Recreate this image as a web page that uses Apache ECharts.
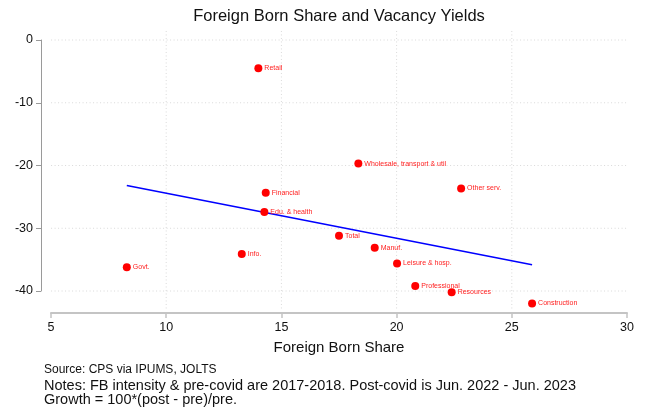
<!DOCTYPE html>
<html>
<head>
<meta charset="utf-8">
<script src="https://cdn.jsdelivr.net/npm/echarts@6/dist/echarts.min.js"></script>
<style>html,body{margin:0;padding:0;background:#fff}#c{width:646px;height:418px}</style>
</head>
<body>
<div id="c"></div>
<script>
const sectors = ['Retail','Financial','Edu. & health','Total','Info.','Govt.','Wholesale, transport & util','Other serv.','Manuf.','Leisure & hosp.','Professional','Resources','Construction'];
const fbShare = [14.0,14.32,14.26,17.5,13.28,8.29,18.34,22.8,19.05,20.02,20.81,22.39,25.88];
const vacancyGrowth = [-4.5,-24.35,-27.4,-31.2,-34.1,-36.2,-19.7,-23.65,-33.1,-35.6,-39.2,-40.2,-42.0];
const fitX = [8.29, 25.88];
const fitY = [-23.2, -35.8];
const xTicks = [5,10,15,20,25,30];
const yTicks = [0,-10,-20,-30,-40];
const xGridTicks = [10,15,20,25];

const FONT = '"Liberation Sans", Arial, sans-serif';
const chart = echarts.init(document.getElementById('c'), null, {renderer:'canvas'});

// plot-region extents (in data units) for grid lines
const xLo = 4.70, xHi = 30.39, yHi = 1.44, yLo = -43.0;
const gridStyle = {color:'#d9d9d9', width:1, type:[1,2.5]};
const gridSeries = [];
yTicks.forEach(v => gridSeries.push({type:'line', data:[[xLo,v],[xHi,v]], clip:false, silent:true, symbol:'none', lineStyle:gridStyle, z:1, animation:false}));
xGridTicks.forEach(v => gridSeries.push({type:'line', data:[[v,yHi],[v,yLo]], clip:false, silent:true, symbol:'none', lineStyle:gridStyle, z:1, animation:false}));

const pts = sectors.map((s,i) => ({name:s, value:[fbShare[i], vacancyGrowth[i]]}));

chart.setOption({
  animation:false,
  textStyle:{fontFamily:FONT},
  grid:{left:51, right:19, top:40, bottom:127, containLabel:false},
  xAxis:{
    type:'value', min:5, max:30, interval:5, offset:22,
    name:'Foreign Born Share', nameLocation:'middle', nameGap:27,
    nameTextStyle:{fontSize:15, color:'#111', fontFamily:FONT},
    axisLine:{show:true, onZero:false, lineStyle:{color:'#c4c4c4', width:2}},
    axisTick:{show:true, length:5, inside:false, lineStyle:{color:'#c4c4c4', width:1.5}},
    axisLabel:{fontSize:12.5, color:'#111', margin:8, fontFamily:FONT, formatter:v=>String(v)},
    splitLine:{show:false}
  },
  yAxis:{
    type:'value', min:-40, max:0, interval:10, offset:10,
    axisLine:{show:true, onZero:false, lineStyle:{color:'#9a9a9a', width:1}},
    axisTick:{show:true, length:5, lineStyle:{color:'#9a9a9a', width:1}},
    axisLabel:{fontSize:12.5, color:'#111', margin:8, fontFamily:FONT},
    splitLine:{show:false}
  },
  series:[
    ...gridSeries,
    {
      type:'line', data:[[fitX[0],fitY[0]],[fitX[1],fitY[1]]], symbol:'none', clip:false,
      lineStyle:{color:'#0000ff', width:1.5}, z:3, silent:true
    },
    {
      type:'scatter', data:pts, symbol:'circle', symbolSize:8, clip:false, z:4,
      itemStyle:{color:'#ff0000', opacity:1},
      label:{show:true, position:'right', distance:2, formatter:p=>p.name, fontSize:7, color:'#ff2020', fontFamily:FONT}
    }
  ],
  graphic:[
    {type:'text', x:339, y:8, style:{text:'Foreign Born Share and Vacancy Yields', font:'16.5px '+FONT, fill:'#111', textAlign:'center'}},
    {type:'text', x:44, y:364, style:{text:'Source: CPS via IPUMS, JOLTS', font:'12px '+FONT, fill:'#111'}},
    {type:'text', x:44, y:379, style:{text:'Notes: FB intensity & pre-covid are 2017-2018. Post-covid is Jun. 2022 - Jun. 2023\nGrowth = 100*(post - pre)/pre.', font:'14.5px '+FONT, fill:'#111', lineHeight:14}}
  ]
});
</script>
</body>
</html>
